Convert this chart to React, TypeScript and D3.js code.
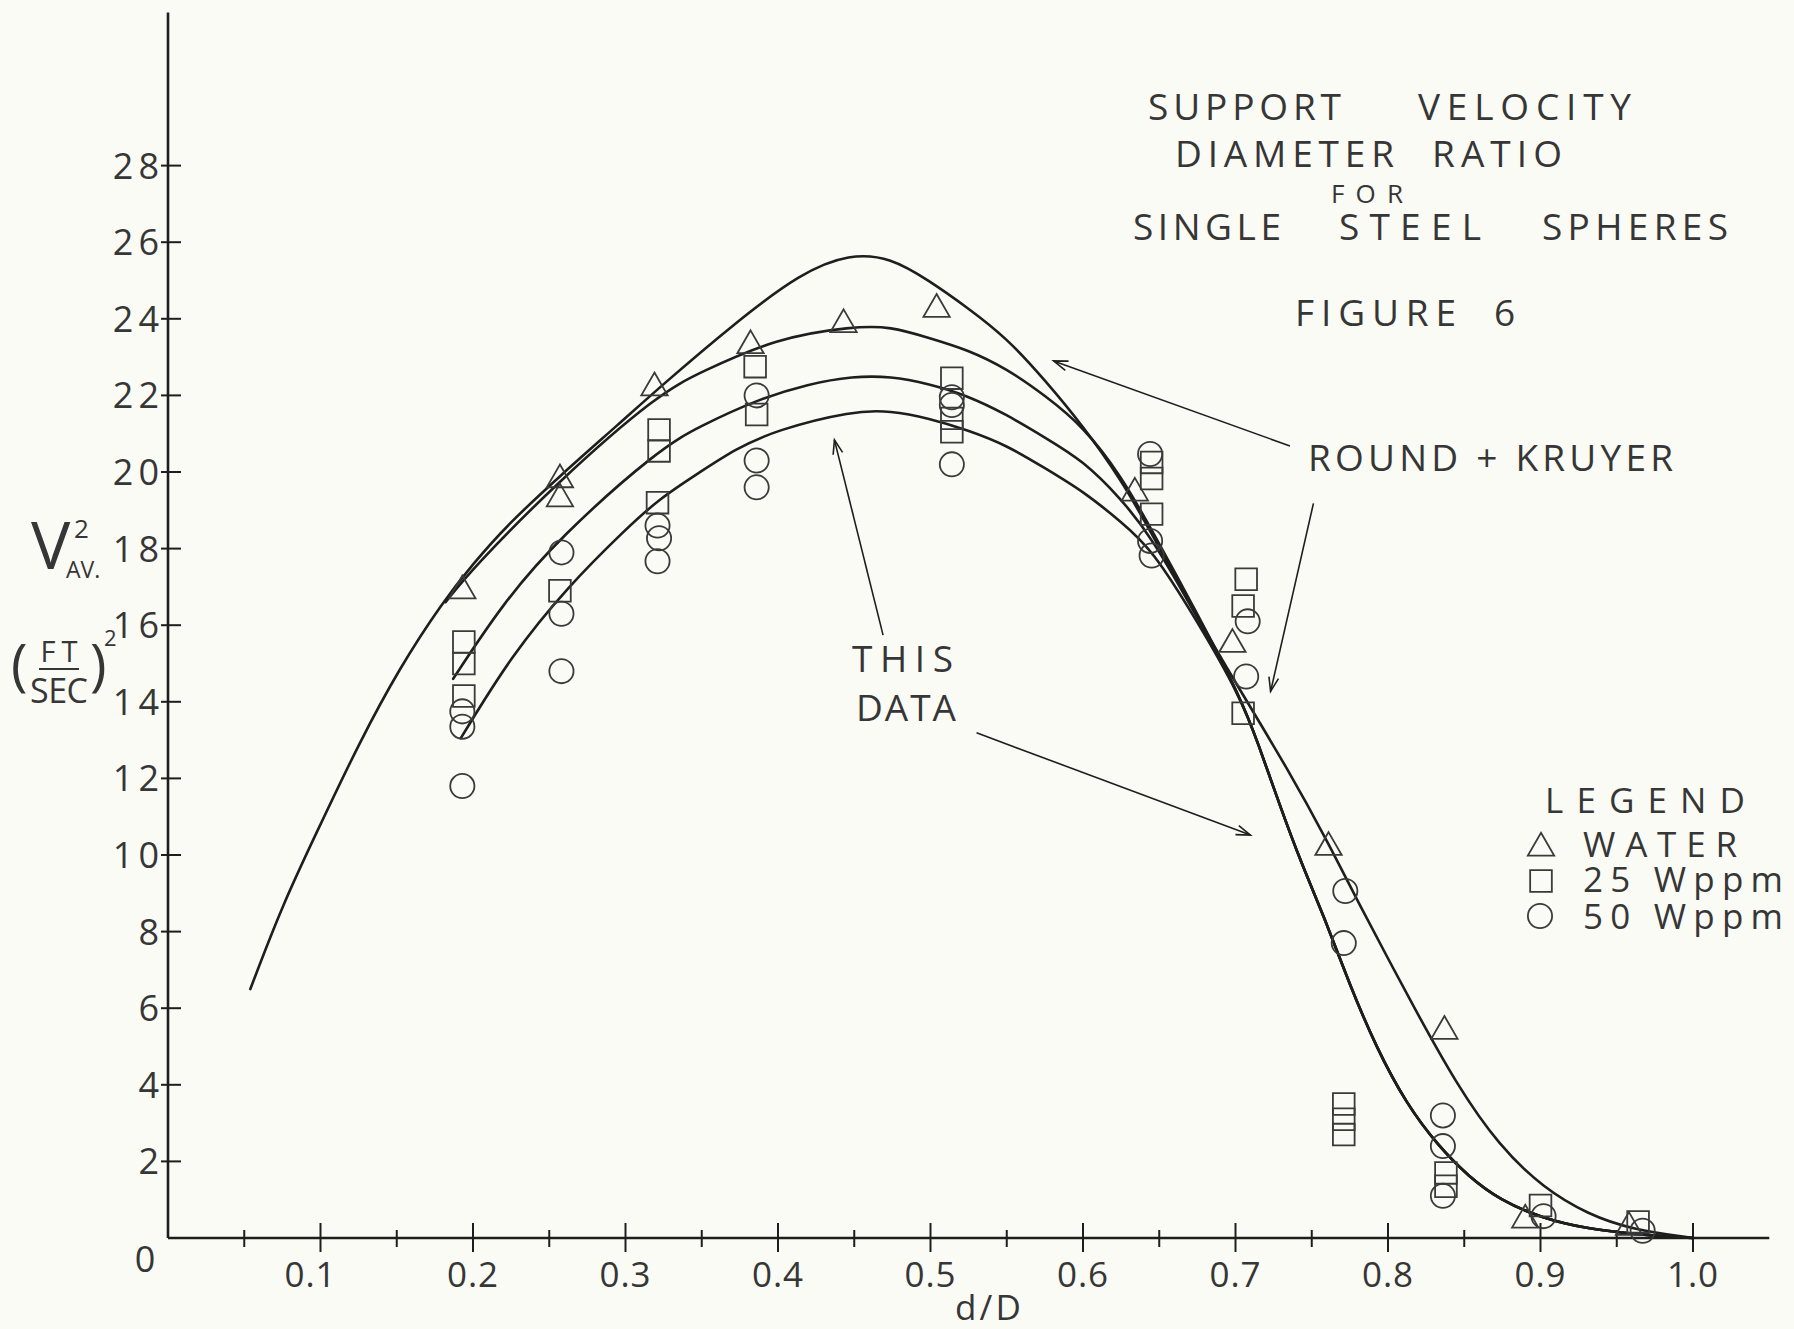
import React, { useEffect } from 'react';
import * as d3 from 'd3';

const W = 1794;
const H = 1329;

// ---- axis ticks ----
const xTickValues = [0.1, 0.2, 0.3, 0.4, 0.5, 0.6, 0.7, 0.8, 0.9, 1.0];
const xTickLabels = ['0.1', '0.2', '0.3', '0.4', '0.5', '0.6', '0.7', '0.8', '0.9', '1.0'];
const xMinorTicks = [0.05, 0.15, 0.25, 0.35, 0.45, 0.55, 0.65, 0.75, 0.85, 0.95];
const yTickValues = [2, 4, 6, 8, 10, 12, 14, 16, 18, 20, 22, 24, 26, 28];
const yTickLabels = ['2', '4', '6', '8', '10', '12', '14', '16', '18', '20', '22', '24', '26', '28'];

// ---- curves [d/D, V^2] ----
const roundKruyerCurve: [number, number][] = [
  [0.054, 6.5], [0.075, 8.7], [0.1, 10.8], [0.125, 12.9], [0.152, 14.9], [0.18, 16.6],
  [0.2, 17.6], [0.222, 18.6], [0.257, 19.9], [0.297, 21.3], [0.322, 22.2], [0.372, 23.9],
  [0.415, 25.2], [0.447, 25.7], [0.474, 25.6], [0.499, 25.0], [0.524, 24.3], [0.55, 23.5],
  [0.575, 22.4], [0.6, 21.2], [0.625, 19.8], [0.645, 18.4], [0.675, 16.2], [0.70, 14.5],
  [0.735, 12.2], [0.761, 10.3], [0.78, 8.8], [0.8, 7.3], [0.816, 6.1], [0.845, 4.0],
  [0.873, 2.4], [0.902, 1.3], [0.931, 0.62], [0.96, 0.22], [1.0, 0],
];
const thisDataWaterCurve: [number, number][] = [
  [0.182, 16.6], [0.2, 17.5], [0.257, 19.8], [0.322, 22.05], [0.349, 22.6], [0.399, 23.5],
  [0.449, 23.8], [0.474, 23.8], [0.499, 23.5], [0.524, 23.2], [0.55, 22.7], [0.575, 22.0],
  [0.6, 21.2], [0.625, 19.9], [0.645, 18.5], [0.675, 16.3],
];
const thisData25Curve: [number, number][] = [
  [0.187, 14.6], [0.22, 16.6], [0.257, 18.3], [0.322, 20.6], [0.349, 21.2], [0.387, 21.9],
  [0.42, 22.3], [0.449, 22.5], [0.474, 22.5], [0.499, 22.3], [0.524, 22.0], [0.55, 21.5],
  [0.575, 20.9], [0.6, 20.3], [0.625, 19.3], [0.645, 18.3], [0.675, 16.2],
];
const thisData50Curve: [number, number][] = [
  [0.192, 13.05], [0.225, 15.2], [0.262, 17.0], [0.3, 18.5], [0.322, 19.3], [0.349, 20.0],
  [0.372, 20.6], [0.399, 21.1], [0.449, 21.6], [0.474, 21.6], [0.499, 21.4], [0.524, 21.1],
  [0.55, 20.7], [0.575, 20.1], [0.6, 19.5], [0.625, 18.7], [0.645, 18.0], [0.675, 16.1],
];
const thisDataTail: [number, number][] = [
  [0.703, 14.15], [0.715, 12.9], [0.729, 11.3], [0.743, 9.8], [0.758, 8.4], [0.775, 6.6],
  [0.792, 5.0], [0.812, 3.5], [0.833, 2.4], [0.853, 1.6], [0.873, 1.0], [0.902, 0.5],
  [0.93, 0.25], [0.96, 0.1], [1.0, 0],
];

// ---- measured points [d/D, V^2] ----
const waterPoints: [number, number][] = [
  [0.193, 16.9], [0.257, 19.8], [0.257, 19.3], [0.319, 22.2], [0.382, 23.3], [0.443, 23.85],
  [0.504, 24.25], [0.634, 19.45], [0.698, 15.5], [0.761, 10.2], [0.837, 5.4], [0.89, 0.47],
  [0.958, 0.28],
];
const wppm25Points: [number, number][] = [
  [0.194, 15.56], [0.194, 15.0], [0.194, 14.15], [0.257, 16.9], [0.322, 21.1], [0.322, 20.55],
  [0.321, 19.2], [0.385, 22.75], [0.386, 21.5], [0.514, 22.45], [0.514, 21.4], [0.514, 21.05],
  [0.645, 20.25], [0.645, 19.83], [0.645, 18.9], [0.707, 17.2], [0.705, 16.5], [0.705, 13.7],
  [0.771, 3.5], [0.771, 3.1], [0.771, 2.7], [0.838, 1.7], [0.838, 1.35], [0.9, 0.85],
  [0.964, 0.42],
];
const wppm50Points: [number, number][] = [
  [0.193, 13.75], [0.193, 13.35], [0.193, 11.8], [0.258, 17.9], [0.258, 16.3], [0.258, 14.8],
  [0.321, 18.6], [0.322, 18.27], [0.321, 17.67], [0.386, 22.0], [0.386, 20.3], [0.386, 19.6],
  [0.514, 21.95], [0.514, 21.75], [0.514, 20.2], [0.644, 20.47], [0.644, 18.2], [0.645, 17.82],
  [0.708, 16.1], [0.707, 14.66], [0.772, 9.06], [0.771, 7.7], [0.836, 3.2], [0.836, 2.4],
  [0.836, 1.1], [0.902, 0.57], [0.967, 0.19],
];

// ---- annotation arrows [tail, tip] in data units ----
const arrowRoundKruyer1: [number, number][] = [[0.7357, 20.68], [0.5807, 22.9]];
const arrowRoundKruyer2: [number, number][] = [[0.7511, 19.18], [0.723, 14.27]];
const arrowThisData1: [number, number][] = [[0.4689, 15.74], [0.437, 20.84]];
const arrowThisData2: [number, number][] = [[0.5302, 13.19], [0.7098, 10.52]];

const INK = '#1e1e1e';
const TEXT = '#363636';
const MARK = '#3a3a3a';
const FONT = '"Open Sans", "DejaVu Sans", sans-serif';

export default function App() {
  useEffect(() => {
    document.body.style.margin = '0';
    document.body.style.overflow = 'hidden';
  }, []);

  const x = d3.scaleLinear().domain([0, 1]).range([168, 1693]);
  const y = d3.scaleLinear().domain([0, 28]).range([1238, 1238 - 28 * 38.3]);

  const line = d3
    .line<[number, number]>()
    .x((d) => x(d[0]))
    .y((d) => y(d[1]))
    .curve(d3.curveBasis);

  const triangle = d3.symbol().type(d3.symbolTriangle).size(300)();
  const square = d3.symbol().type(d3.symbolSquare).size(470)();
  const circle = d3.symbol().type(d3.symbolCircle).size(460)();

  const arrow = (a: [number, number][], key: string) => {
    const x1 = x(a[0][0]);
    const y1 = y(a[0][1]);
    const x2 = x(a[1][0]);
    const y2 = y(a[1][1]);
    const ang = Math.atan2(y2 - y1, x2 - x1);
    const L = 15;
    const sp = 0.33;
    const b1 = [x2 - L * Math.cos(ang - sp), y2 - L * Math.sin(ang - sp)];
    const b2 = [x2 - L * Math.cos(ang + sp), y2 - L * Math.sin(ang + sp)];
    return (
      <g key={key} stroke={INK} strokeWidth={1.6} fill="none">
        <line x1={x1} y1={y1} x2={x2} y2={y2} />
        <path d={`M${b1[0]},${b1[1]} L${x2},${y2} L${b2[0]},${b2[1]}`} />
      </g>
    );
  };

  const x0 = x(0);
  const y0 = y(0);

  return (
    <svg
      width={W}
      height={H}
      viewBox={`0 0 ${W} ${H}`}
      style={{ position: 'absolute', left: 0, top: 0, display: 'block' }}
      fontFamily={FONT}
    >
      <rect x={0} y={0} width={W} height={H} fill="#fbfbf5" />

      {/* axes */}
      <g stroke={INK} strokeWidth={2.6}>
        <line x1={x0} y1={y0} x2={x0} y2={y(32)} />
        <line x1={x0} y1={y0} x2={x(1.05)} y2={y0} />
      </g>
      <g stroke={INK} strokeWidth={2}>
        {yTickValues.map((v) => (
          <line key={'yt' + v} x1={x0 - 7} x2={x0 + 13} y1={y(v)} y2={y(v)} />
        ))}
        {xTickValues.map((v) => (
          <line key={'xt' + v} x1={x(v)} x2={x(v)} y1={y0 - 15} y2={y0 + 14} />
        ))}
        {xMinorTicks.map((v) => (
          <line key={'xm' + v} x1={x(v)} x2={x(v)} y1={y0 - 8} y2={y0 + 9} />
        ))}
      </g>
      <g fill={TEXT} fontSize={36}>
        {yTickValues.map((v, i) => (
          <text key={'yl' + v} x={x0 - 4} y={y(v)} dy="0.36em" textAnchor="end" letterSpacing={5}>
            {yTickLabels[i]}
          </text>
        ))}
        <text x={145} y={1272} textAnchor="middle">0</text>
        {xTickValues.map((v, i) => (
          <text key={'xl' + v} x={x(v) - (i === 0 ? 10 : 0)} y={1287} textAnchor="middle" fontSize={35} letterSpacing={1}>
            {xTickLabels[i]}
          </text>
        ))}
        <text x={988} y={1320} textAnchor="middle" fontSize={35} textLength={66} lengthAdjust="spacing">
          d/D
        </text>
      </g>

      {/* y axis title */}
      <g fill={TEXT}>
        <text x={31} y={569} fontSize={66}>V</text>
        <text x={74} y={538} fontSize={26}>2</text>
        <text x={66} y={578} fontSize={23}>AV.</text>
        <text x={11} y={685} fontSize={56}>(</text>
        <text x={59} y={662} fontSize={29} textAnchor="middle" textLength={37} lengthAdjust="spacing">FT</text>
        <line x1={39} x2={79} y1={669} y2={669} stroke={TEXT} strokeWidth={2} />
        <text x={59} y={703} fontSize={34} textAnchor="middle" textLength={58} lengthAdjust="spacing">SEC</text>
        <text x={90} y={685} fontSize={56}>)</text>
        <text x={104} y={646} fontSize={22}>2</text>
      </g>

      {/* curves */}
      <g fill="none" stroke={INK} strokeWidth={2.6} strokeLinecap="round">
        <path d={line(roundKruyerCurve) || ''} />
        <path d={line([...thisDataWaterCurve, ...thisDataTail]) || ''} />
        <path d={line([...thisData25Curve, ...thisDataTail]) || ''} />
        <path d={line([...thisData50Curve, ...thisDataTail]) || ''} />
      </g>

      {/* markers */}
      <g fill="none" stroke={MARK} strokeWidth={1.8}>
        {wppm25Points.map((p, i) => (
          <path key={'s' + i} d={square || ''} transform={`translate(${x(p[0])},${y(p[1])})`} />
        ))}
        {wppm50Points.map((p, i) => (
          <path key={'c' + i} d={circle || ''} transform={`translate(${x(p[0])},${y(p[1])})`} />
        ))}
        {waterPoints.map((p, i) => (
          <path key={'t' + i} d={triangle || ''} transform={`translate(${x(p[0])},${y(p[1])})`} />
        ))}
      </g>

      {/* arrows */}
      {arrow(arrowRoundKruyer1, 'a1')}
      {arrow(arrowRoundKruyer2, 'a2')}
      {arrow(arrowThisData1, 'a3')}
      {arrow(arrowThisData2, 'a4')}

      {/* title block */}
      <g fill={TEXT} fontSize={37}>
        <text x={1148} y={120} textLength={193} lengthAdjust="spacing">SUPPORT</text>
        <text x={1418} y={120} textLength={213} lengthAdjust="spacing">VELOCITY</text>
        <text x={1175} y={167} textLength={219} lengthAdjust="spacing">DIAMETER</text>
        <text x={1432} y={167} textLength={130} lengthAdjust="spacing">RATIO</text>
        <text x={1331} y={203} fontSize={26} textLength={72} lengthAdjust="spacing">FOR</text>
        <text x={1133} y={240} textLength={148} lengthAdjust="spacing">SINGLE</text>
        <text x={1339} y={240} textLength={142} lengthAdjust="spacing">STEEL</text>
        <text x={1542} y={240} textLength={186} lengthAdjust="spacing">SPHERES</text>
        <text x={1295} y={326} textLength={161} lengthAdjust="spacing">FIGURE</text>
        <text x={1494} y={326}>6</text>
        <text x={1308} y={471} textLength={365} lengthAdjust="spacing">ROUND + KRUYER</text>
        <text x={852} y={672} textLength={101} lengthAdjust="spacing">THIS</text>
        <text x={856} y={721} textLength={100} lengthAdjust="spacing">DATA</text>
      </g>

      {/* legend */}
      <g fill={TEXT} fontSize={35}>
        <text x={1545} y={813} textLength={200} lengthAdjust="spacing">LEGEND</text>
        <text x={1583} y={857} textLength={154} lengthAdjust="spacing">WATER</text>
        <text x={1583} y={892} textLength={200} lengthAdjust="spacing">25 Wppm</text>
        <text x={1583} y={929} textLength={200} lengthAdjust="spacing">50 Wppm</text>
      </g>
      <g fill="none" stroke={MARK} strokeWidth={1.8}>
        <path d={triangle || ''} transform="translate(1541,848)" />
        <path d={square || ''} transform="translate(1541,881)" />
        <path d={circle || ''} transform="translate(1540,916)" />
      </g>
    </svg>
  );
}
